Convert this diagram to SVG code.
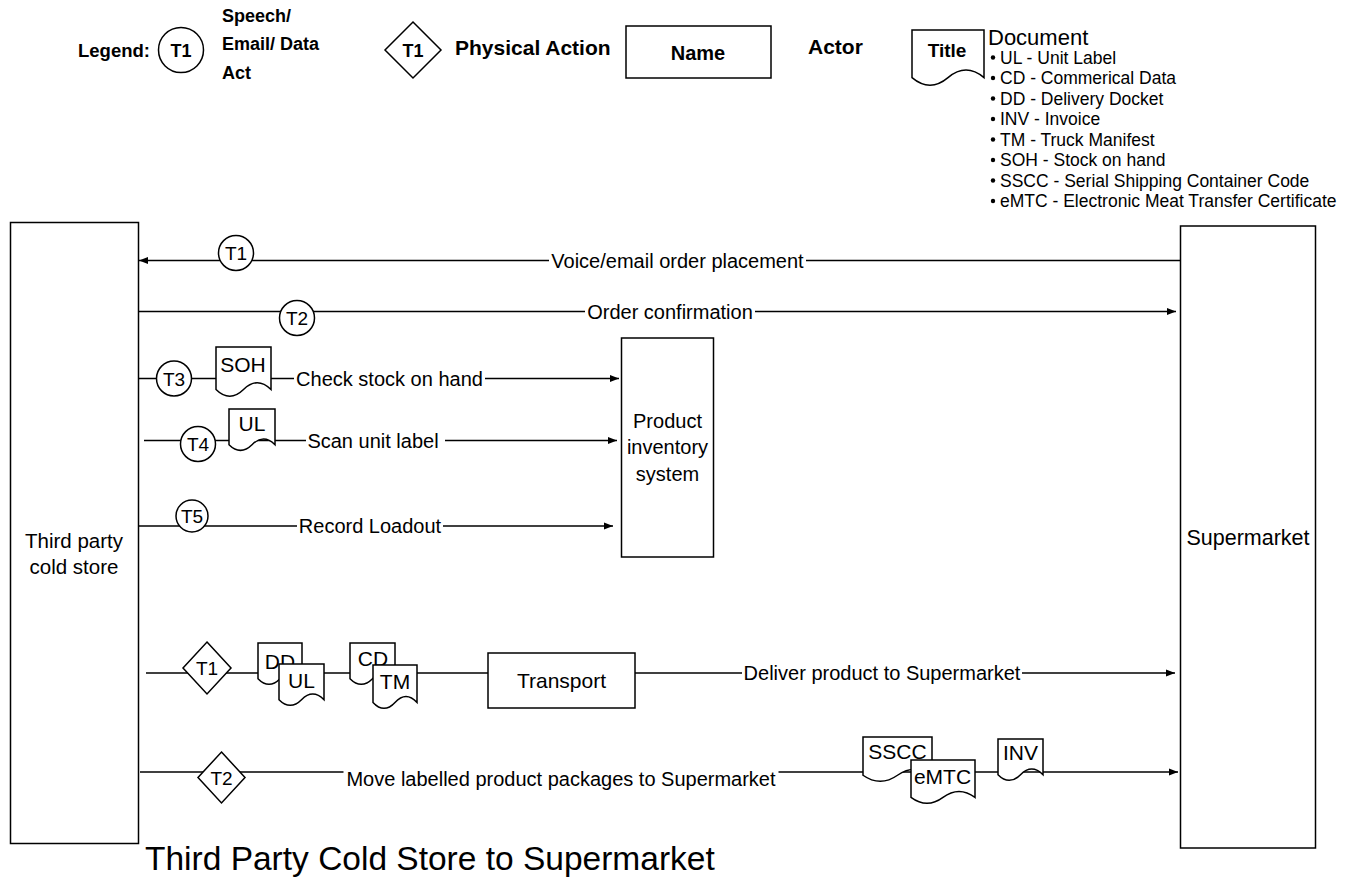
<svg xmlns="http://www.w3.org/2000/svg" width="1352" height="888" viewBox="0 0 1352 888">
<style>
text{font-family:"Liberation Sans",Arial,Helvetica,sans-serif;fill:#000}
.shape{fill:#fff;stroke:#000;stroke-width:1.5}
.ln{stroke:#000;stroke-width:1.5;fill:none}
.lbl{font-size:20px}
.c{text-anchor:middle}
.lg{font-size:18px;font-weight:bold}
.li{font-size:17.5px}
.tg{font-size:19px}
.bg{fill:#fff}
</style>
<defs>
<marker id="arr" markerWidth="10" markerHeight="8" refX="9" refY="4" orient="auto" markerUnits="userSpaceOnUse"><path d="M0,0.5 L9,4 L0,7.5 Z" fill="#000"/></marker>
<symbol id="doc" viewBox="0 0 100 100" preserveAspectRatio="none" overflow="visible"><path d="M0,0 H100 V85 Q75,58 50,85 Q25,112 0,85 Z" vector-effect="non-scaling-stroke"/></symbol>
</defs>
<rect width="1352" height="888" fill="#fff"/>

<g id="legend">
<text x="78" y="57" font-size="18.5" font-weight="bold">Legend:</text>
<circle class="shape" cx="181" cy="50" r="22.5"/>
<text class="c" x="181" y="57" font-size="18" font-weight="bold">T1</text>
<text x="222" y="22" class="lg">Speech/</text>
<text x="222" y="50" class="lg">Email/ Data</text>
<text x="222" y="79" class="lg">Act</text>
<polygon class="shape" points="413,22 441,50 413,78 385,50"/>
<text class="c" x="413" y="57" font-size="18" font-weight="bold">T1</text>
<text x="455" y="55" font-size="21" font-weight="bold">Physical Action</text>
<rect class="shape" x="626" y="26" width="145" height="52"/>
<text class="c" x="698" y="60" font-size="20" font-weight="bold">Name</text>
<text x="808" y="54" font-size="21" font-weight="bold">Actor</text>
<use href="#doc" class="shape" x="912" y="30" width="72" height="56"/>
<text class="c" x="947" y="57" font-size="19" font-weight="bold">Title</text>
<text x="988" y="45" font-size="22">Document</text>
<g class="li">
<circle cx="993" cy="57.5" r="2.2"/><text x="1000" y="63.5">UL - Unit Label</text>
<circle cx="993" cy="78" r="2.2"/><text x="1000" y="84">CD - Commerical Data</text>
<circle cx="993" cy="98.5" r="2.2"/><text x="1000" y="104.5">DD - Delivery Docket</text>
<circle cx="993" cy="119" r="2.2"/><text x="1000" y="125">INV - Invoice</text>
<circle cx="993" cy="139.5" r="2.2"/><text x="1000" y="145.5">TM - Truck Manifest</text>
<circle cx="993" cy="160" r="2.2"/><text x="1000" y="166">SOH - Stock on hand</text>
<circle cx="993" cy="180.5" r="2.2"/><text x="1000" y="186.5">SSCC - Serial Shipping Container Code</text>
<circle cx="993" cy="201" r="2.2"/><text x="1000" y="207">eMTC - Electronic Meat Transfer Certificate</text>
</g>
</g>

<g id="connectors">
<line class="ln" x1="1180" y1="260.5" x2="139" y2="260.5" marker-end="url(#arr)"/>
<rect class="bg" x="549" y="250" width="257" height="20"/>
<text class="lbl c" x="677.5" y="267.5">Voice/email order placement</text>

<line class="ln" x1="139" y1="311.5" x2="1176" y2="311.5" marker-end="url(#arr)"/>
<rect class="bg" x="585" y="301" width="170" height="20"/>
<text class="lbl c" x="670" y="318.5">Order confirmation</text>

<line class="ln" x1="139" y1="378.5" x2="619" y2="378.5" marker-end="url(#arr)"/>
<rect class="bg" x="294" y="368" width="191" height="20"/>
<text class="lbl c" x="389.5" y="385.5">Check stock on hand</text>

<line class="ln" x1="144" y1="440.5" x2="617" y2="440.5" marker-end="url(#arr)"/>
<rect class="bg" x="306" y="430" width="139" height="20"/>
<text class="lbl c" x="373" y="447.5">Scan unit label</text>

<line class="ln" x1="139" y1="526" x2="613" y2="526" marker-end="url(#arr)"/>
<rect class="bg" x="297" y="516" width="146" height="20"/>
<text class="lbl c" x="370" y="533">Record Loadout</text>

<line class="ln" x1="146" y1="673" x2="488" y2="673"/>
<line class="ln" x1="635" y1="673" x2="1175" y2="673" marker-end="url(#arr)"/>
<rect class="bg" x="742" y="663" width="280" height="20"/>
<text class="lbl c" x="882" y="680">Deliver product to Supermarket</text>

<line class="ln" x1="140" y1="772" x2="1178" y2="772" marker-end="url(#arr)"/>
<rect class="bg" x="343.5" y="764" width="435" height="28"/>
<text class="lbl c" x="561" y="786">Move labelled product packages to Supermarket</text>
</g>

<g id="cold-store">
<rect class="shape" x="10.5" y="222.5" width="128" height="621"/>
<text class="c" x="74" y="548" font-size="20.5">Third party</text>
<text class="c" x="74" y="574" font-size="20.5">cold store</text>
</g>

<g id="supermarket">
<rect class="shape" x="1180.5" y="226" width="135" height="622"/>
<text class="c" x="1248" y="544.5" font-size="21.5">Supermarket</text>
</g>

<g id="inventory-system">
<rect class="shape" x="621.5" y="338" width="92" height="219"/>
<text class="c" x="667.5" y="427.5" font-size="20">Product</text>
<text class="c" x="667.5" y="454" font-size="20">inventory</text>
<text class="c" x="667.5" y="480.5" font-size="20">system</text>
</g>

<g id="transport">
<rect class="shape" x="488" y="653" width="147" height="55"/>
<text class="c" x="561.5" y="687.5" font-size="21">Transport</text>
</g>

<g id="t1-speech"><circle class="shape" cx="236" cy="253" r="17.5"/><text class="c tg" x="236" y="260">T1</text></g>
<g id="t2-speech"><circle class="shape" cx="297" cy="318" r="17.5"/><text class="c tg" x="297" y="325">T2</text></g>
<g id="t3-speech"><circle class="shape" cx="174" cy="378.5" r="17.5"/><text class="c tg" x="174" y="385.5">T3</text></g>
<g id="t4-speech"><circle class="shape" cx="198" cy="444" r="17.5"/><text class="c tg" x="198" y="451">T4</text></g>
<g id="t5-speech"><circle class="shape" cx="192" cy="516" r="16"/><text class="c tg" x="192" y="523">T5</text></g>

<g id="t1-physical"><polygon class="shape" points="207,642 231,668 207,694 183,668"/><text class="c tg" x="207" y="675">T1</text></g>
<g id="t2-physical"><polygon class="shape" points="221.5,752 245,777.5 221.5,803 198,777.5"/><text class="c tg" x="221.5" y="784.5">T2</text></g>

<g id="doc-soh"><use href="#doc" class="shape" x="216" y="347" width="55" height="50"/><text class="c" x="243" y="372" font-size="21">SOH</text></g>
<g id="doc-ul1"><use href="#doc" class="shape" x="229" y="409" width="46" height="42"/><text class="c" x="252" y="431" font-size="21">UL</text></g>
<g id="doc-dd"><use href="#doc" class="shape" x="258" y="643" width="44" height="42"/><text class="c" x="280" y="669" font-size="21">DD</text></g>
<g id="doc-ul2"><use href="#doc" class="shape" x="279" y="664" width="45" height="42"/><text class="c" x="301.5" y="688" font-size="21">UL</text></g>
<g id="doc-cd"><use href="#doc" class="shape" x="350" y="643" width="45" height="42"/><text class="c" x="373" y="666" font-size="21">CD</text></g>
<g id="doc-tm"><use href="#doc" class="shape" x="373" y="665" width="44" height="44"/><text class="c" x="395" y="689" font-size="21">TM</text></g>
<g id="doc-sscc"><use href="#doc" class="shape" x="863" y="737" width="69" height="45"/><text class="c" x="897.5" y="759" font-size="21">SSCC</text></g>
<g id="doc-emtc"><use href="#doc" class="shape" x="911" y="760" width="64" height="44"/><text class="c" x="942.5" y="784" font-size="21">eMTC</text></g>
<g id="doc-inv"><use href="#doc" class="shape" x="998" y="739" width="45" height="42"/><text class="c" x="1020.5" y="760" font-size="21">INV</text></g>

<text id="title" x="145" y="870" font-size="33.5">Third Party Cold Store to Supermarket</text>
</svg>
